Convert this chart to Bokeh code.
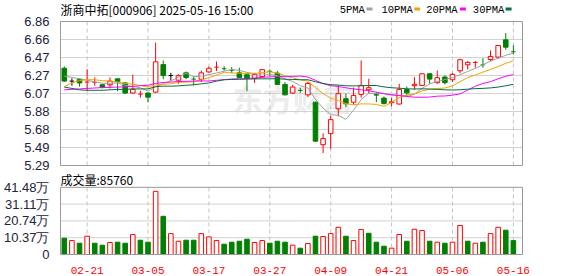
import numpy as np
from bokeh.plotting import figure
from bokeh.models import ColumnDataSource, FixedTicker, Range1d, Label
from bokeh.layouts import column
from bokeh.embed import file_html
from bokeh.resources import INLINE
from bokeh.core.properties import value

# ---------------- data ----------------
dates = ["02-18", "02-19", "02-20", "02-21", "02-24", "02-25", "02-26", "02-27", "02-28",
         "03-03", "03-04", "03-05", "03-06", "03-07", "03-10", "03-11", "03-12", "03-13", "03-14",
         "03-17", "03-18", "03-19", "03-20", "03-21", "03-24", "03-25", "03-26", "03-27", "03-28", "03-31",
         "04-01", "04-02", "04-03", "04-07", "04-08", "04-09", "04-10", "04-11", "04-14", "04-15",
         "04-16", "04-17", "04-18", "04-21", "04-22", "04-23", "04-24", "04-25", "04-28", "04-29", "04-30",
         "05-06", "05-07", "05-08", "05-09", "05-12", "05-13", "05-14", "05-15", "05-16"]

opens = [6.35, 6.21, 6.23, 6.198, 6.195, 6.17, 6.17, 6.235, 6.19, 6.08,
         6.065, 6.08, 6.09, 6.39, 6.27, 6.22, 6.30, 6.235, 6.23, 6.31,
         6.36, 6.347, 6.33, 6.30, 6.28, 6.24, 6.26, 6.32, 6.297, 6.174,
         6.08, 6.112, 6.06, 5.98, 5.517, 5.637, 5.909, 6.018, 5.98, 6.065,
         6.116, 6.062, 6.025, 5.975, 5.96, 6.118, 6.16, 6.163, 6.29, 6.193,
         6.254, 6.225, 6.323, 6.388, 6.412, 6.39, 6.446, 6.472, 6.66, 6.532]
highs = [6.37, 6.24, 6.24, 6.34, 6.25, 6.18, 6.25, 6.24, 6.20, 6.28,
         6.105, 6.085, 6.63, 6.435, 6.30, 6.285, 6.315, 6.26, 6.325, 6.37,
         6.424, 6.373, 6.363, 6.355, 6.285, 6.30, 6.34, 6.337, 6.32, 6.20,
         6.17, 6.138, 6.20, 5.985, 5.64, 5.83, 6.163, 6.075, 6.14, 6.435,
         6.236, 6.09, 6.043, 6.03, 6.18, 6.152, 6.254, 6.297, 6.297, 6.326,
         6.272, 6.30, 6.454, 6.428, 6.428, 6.46, 6.544, 6.60, 6.733, 6.60]
lows = [6.20, 6.16, 6.15, 6.10, 6.16, 6.13, 6.13, 6.10, 6.07, 6.075,
        6.03, 5.98, 6.08, 6.23, 6.215, 6.18, 6.23, 6.163, 6.20, 6.305,
        6.32, 6.323, 6.297, 6.25, 6.10, 6.19, 6.25, 6.26, 6.17, 6.055,
        6.07, 6.083, 6.036, 5.55, 5.426, 5.47, 5.826, 5.927, 5.956, 6.03,
        6.073, 5.98, 5.953, 5.935, 5.955, 6.047, 6.116, 6.163, 6.18, 6.18,
        6.174, 6.20, 6.297, 6.337, 6.356, 6.356, 6.428, 6.454, 6.552, 6.50]
closes = [6.21, 6.21, 6.19, 6.20, 6.197, 6.14, 6.21, 6.205, 6.08, 6.12,
          6.068, 6.035, 6.42, 6.27, 6.27, 6.27, 6.25, 6.232, 6.30, 6.35,
          6.362, 6.345, 6.328, 6.25, 6.24, 6.28, 6.335, 6.317, 6.174, 6.06,
          6.145, 6.109, 6.185, 5.555, 5.583, 5.79, 6.073, 5.964, 6.054, 6.163,
          6.138, 6.058, 5.967, 5.985, 6.12, 6.082, 6.175, 6.29, 6.232, 6.247,
          6.193, 6.283, 6.443, 6.414, 6.414, 6.388, 6.479, 6.599, 6.58, 6.53]
# volume in 万 (10k lots)
volumes = [10.06, 8.62, 6.98, 11.29, 6.98, 5.75, 7.39, 7.6, 6.98, 12.3,
           8.83, 7.6, 39.0, 23.6, 12.9, 8.2, 8.83, 8.83, 12.9, 10.9,
           8.62, 6.36, 7.6, 8.2, 9.44, 7.39, 8.62, 6.98, 8.2, 7.6,
           5.75, 3.9, 6.77, 11.29, 11.09, 12.9, 16.8, 11.29, 8.62, 15.4,
           13.1, 7.6, 5.13, 3.9, 12.3, 8.2, 15.6, 14.8, 8.2, 7.6,
           6.98, 7.6, 17.9, 8.2, 6.98, 7.6, 12.9, 16.8, 15.0, 8.576]
ma5 = [6.265, 6.25, 6.235, 6.22, 6.201, 6.187, 6.187, 6.190, 6.166, 6.151,
       6.137, 6.102, 6.145, 6.183, 6.213, 6.253, 6.296, 6.258, 6.264, 6.280,
       6.299, 6.318, 6.337, 6.327, 6.305, 6.289, 6.287, 6.284, 6.269, 6.233,
       6.206, 6.161, 6.135, 6.011, 5.915, 5.844, 5.837, 5.793, 5.893, 6.009,
       6.078, 6.075, 6.076, 6.062, 6.054, 6.042, 6.066, 6.130, 6.180, 6.205,
       6.227, 6.249, 6.280, 6.316, 6.349, 6.388, 6.428, 6.459, 6.492, 6.515]
ma10 = [6.15, 6.19, 6.215, 6.225, 6.225, 6.215, 6.21, 6.20, 6.185, 6.176,
        6.162, 6.145, 6.168, 6.175, 6.182, 6.195, 6.199, 6.202, 6.224, 6.247,
        6.276, 6.307, 6.298, 6.296, 6.293, 6.294, 6.302, 6.311, 6.298, 6.269,
        6.247, 6.224, 6.210, 6.140, 6.074, 6.025, 5.999, 5.964, 5.952, 5.962,
        5.961, 5.956, 5.935, 5.978, 6.031, 6.060, 6.071, 6.103, 6.121, 6.129,
        6.135, 6.157, 6.205, 6.248, 6.277, 6.308, 6.338, 6.369, 6.404, 6.432]
ma20 = [6.115, 6.12, 6.125, 6.13, 6.135, 6.14, 6.142, 6.145, 6.148, 6.152,
        6.16, 6.165, 6.185, 6.195, 6.20, 6.205, 6.208, 6.21, 6.212, 6.211,
        6.219, 6.226, 6.233, 6.235, 6.237, 6.244, 6.251, 6.256, 6.261, 6.258,
        6.262, 6.265, 6.254, 6.218, 6.184, 6.160, 6.151, 6.137, 6.125, 6.116,
        6.104, 6.090, 6.072, 6.059, 6.053, 6.043, 6.035, 6.034, 6.036, 6.046,
        6.048, 6.057, 6.070, 6.113, 6.154, 6.184, 6.204, 6.236, 6.263, 6.281]
ma30 = [6.145, 6.13, 6.115, 6.11, 6.11, 6.11, 6.115, 6.12, 6.12, 6.125,
        6.125, 6.125, 6.15, 6.155, 6.155, 6.158, 6.165, 6.17, 6.18, 6.19,
        6.21, 6.225, 6.228, 6.23, 6.232, 6.234, 6.235, 6.235, 6.236, 6.231,
        6.228, 6.225, 6.225, 6.203, 6.183, 6.171, 6.167, 6.159, 6.158, 6.159,
        6.162, 6.162, 6.147, 6.138, 6.133, 6.126, 6.124, 6.126, 6.124, 6.120,
        6.115, 6.113, 6.116, 6.122, 6.128, 6.131, 6.136, 6.145, 6.159, 6.175]

price_tick_labels = ["5.29", "5.49", "5.68", "5.88", "6.07", "6.27", "6.47", "6.66", "6.86"]
vol_tick_labels = ["0", "10.37万", "20.74万", "31.11万", "41.48万"]
date_tick_labels = ["02-21", "03-05", "03-17", "03-27", "04-09", "04-21", "05-06", "05-16"]
price_lo, price_hi = 5.29, 6.86
vol_hi = 41.48
title_text = "浙商中拓[000906] 2025-05-16 15:00"
ma_names = ["5PMA", "10PMA", "20PMA", "30PMA"]

# ---------------- styles / geometry ----------------
RED = "#ff0000"
GREEN = "#008000"
MA_COLORS = ["#a0a0a0", "#f5a300", "#ff00ff", "#00703c"]
GRID = "#d2d2d2"
VGRID = "#c4c4c4"
FRAME = "#999999"
LABEL = "#22223c"
W = 578
FL, FR = 56, 523            # frame pixel edges (left/right)
X0, X1 = -0.63, 60.33       # x range (slot -0.5..60.2 is the bordered box)
BOX_L, BOX_R = -0.5, 60.2
P1_H, P1_FH = 172, 166      # price canvas / frame heights
Y1_LO, Y1_HI = 5.279, 7.089
P2_H, P2_FH = 104, 84
Y2_LO, Y2_HI = -0.61, 50.63


def fx(px):
    return X0 + (px - FL) * (X1 - X0) / (FR - FL)


def fy1(py):
    return Y1_HI - py * (Y1_HI - Y1_LO) / P1_FH


def fy2(py):
    return Y2_HI - py * (Y2_HI - Y2_LO) / P2_FH


o = np.array(opens); c = np.array(closes); hi = np.array(highs); lo = np.array(lows)
vol = np.array(volumes)
idx = np.arange(len(c), dtype=float)
hw = 0.3

doji = np.abs(c - o) < 0.004
top = np.maximum(o, c)
bot = np.minimum(o, c)
ccol = np.where(c > o, RED, np.where(c < o, GREEN, "#000000"))

prev = np.concatenate([[o[0]], c[:-1]])
vol_up = c >= prev

price_ticks = [price_lo + k * (price_hi - price_lo) / 8 for k in range(9)]
vol_ticks = [k * vol_hi / 4 for k in range(5)]
date_ticks = [float(dates.index(d)) for d in date_tick_labels]

xr = Range1d(X0, X1)


def style_yaxis(ax, ticks, labels):
    ax.ticker = FixedTicker(ticks=ticks)
    ax.major_label_overrides = {t: s for t, s in zip(ticks, labels)}
    ax.axis_line_color = None
    ax.major_tick_line_color = None
    ax.minor_tick_line_color = None
    ax.major_label_standoff = 4
    ax.major_label_text_font = "Liberation Sans"
    ax.major_label_text_font_size = "13px"
    ax.major_label_text_color = LABEL


def panel_grid(p, ylo, yhi, yticks):
    inner = [t for t in yticks if ylo < t < yhi]
    p.segment(x0=[BOX_L] * len(inner), x1=[BOX_R] * len(inner), y0=inner, y1=inner,
              line_color=GRID, line_width=1)
    p.segment(x0=date_ticks, x1=date_ticks, y0=[ylo] * len(date_ticks), y1=[yhi] * len(date_ticks),
              line_color=VGRID, line_width=1, line_dash="4 3")


def panel_box(p, ylo, yhi):
    p.quad(left=[BOX_L], right=[BOX_R], bottom=[ylo], top=[yhi],
           fill_alpha=0, line_color=FRAME, line_width=1)


# ---------------- price panel ----------------
p1 = figure(width=W, height=P1_H, x_range=xr, y_range=Range1d(Y1_LO, Y1_HI),
            output_backend="svg", toolbar_location=None,
            min_border_left=FL, min_border_right=W - FR, min_border_top=0,
            min_border_bottom=P1_H - P1_FH)
p1.outline_line_color = None
p1.background_fill_color = "white"
p1.border_fill_color = "white"
p1.xaxis.visible = False
p1.grid.visible = False
style_yaxis(p1.yaxis[0], price_ticks, price_tick_labels)

# watermark
p1.add_layout(Label(x=30, y=6.03, text="东方财富", text_font="Noto Sans CJK SC",
                    text_font_size="30px", text_font_style="bold", text_color="#ececec",
                    text_align="center", text_baseline="middle", level="underlay"))
panel_grid(p1, price_lo, price_hi, price_ticks)

# wicks
sw_up = ColumnDataSource(dict(x=idx, y0=hi, y1=np.where(doji, lo, top), col=ccol))
sw_dn = ColumnDataSource(dict(x=idx[~doji], y0=bot[~doji], y1=lo[~doji], col=ccol[~doji]))
p1.segment(x0="x", y0="y0", x1="x", y1="y1", color="col", line_width=1, source=sw_up)
p1.segment(x0="x", y0="y0", x1="x", y1="y1", color="col", line_width=1, source=sw_dn)
# bodies
m_up = (c > o) & ~doji
m_dn = (c < o) & ~doji
p1.quad(left=idx[m_up] - hw, right=idx[m_up] + hw, top=top[m_up], bottom=bot[m_up],
        fill_color="white", line_color=RED, line_width=1)
p1.quad(left=idx[m_dn] - hw, right=idx[m_dn] + hw, top=top[m_dn], bottom=bot[m_dn],
        fill_color=GREEN, line_color=GREEN, line_width=1)
# doji crosses
sc = ColumnDataSource(dict(x0=idx[doji] - hw, x1=idx[doji] + hw, y=c[doji], col=ccol[doji]))
p1.segment(x0="x0", y0="y", x1="x1", y1="y", color="col", line_width=1, source=sc)
# moving averages
for arr, col in zip([ma5, ma10, ma20, ma30], MA_COLORS):
    p1.line(idx, arr, line_color=col, line_width=1)
panel_box(p1, price_lo, price_hi)

# title + MA legend in the header band
p1.text(x=[fx(57)], y=[fy1(9)], text=[title_text], text_font=value("Noto Sans CJK SC"),
        text_font_size="12px", text_color="#000000", text_baseline="middle", text_align="left")
leg_text_px = [338, 380, 425, 472]
leg_box_px = [365, 413, 459, 505]
p1.text(x=[fx(v) for v in leg_text_px], y=[fy1(9)] * 4, text=ma_names,
        text_font=value("Liberation Mono"), text_font_size="10.5px", text_color="#000000",
        text_baseline="middle", text_align="left")
p1.quad(left=[fx(v) for v in leg_box_px], right=[fx(v + 6) for v in leg_box_px],
        top=[fy1(7)] * 4, bottom=[fy1(10)] * 4, fill_color=MA_COLORS, line_color=None)

# ---------------- volume panel ----------------
p2 = figure(width=W, height=P2_H, x_range=xr, y_range=Range1d(Y2_LO, Y2_HI),
            output_backend="svg", toolbar_location=None,
            min_border_left=FL, min_border_right=W - FR, min_border_top=0,
            min_border_bottom=P2_H - P2_FH)
p2.outline_line_color = None
p2.background_fill_color = "white"
p2.border_fill_color = "white"
p2.grid.visible = False
xa = p2.xaxis[0]
xa.ticker = FixedTicker(ticks=date_ticks)
xa.major_label_overrides = {t: s for t, s in zip(date_ticks, date_tick_labels)}
xa.axis_line_color = None
xa.major_tick_line_color = None
xa.minor_tick_line_color = None
xa.major_label_standoff = 5
xa.major_label_text_font = "Liberation Mono"
xa.major_label_text_font_size = "11px"
xa.major_label_text_color = RED
style_yaxis(p2.yaxis[0], vol_ticks, vol_tick_labels)
panel_grid(p2, 0, vol_hi, vol_ticks)

p2.quad(left=idx[vol_up] - hw, right=idx[vol_up] + hw, top=vol[vol_up], bottom=0,
        fill_color="white", line_color=RED, line_width=1)
p2.quad(left=idx[~vol_up] - hw, right=idx[~vol_up] + hw, top=vol[~vol_up], bottom=0,
        fill_color=GREEN, line_color=GREEN, line_width=1)
panel_box(p2, 0, vol_hi)

p2.text(x=[fx(57)], y=[fy2(7.5)], text=["成交量:%d" % round(volumes[-1] * 10000)],
        text_font=value("Noto Sans CJK SC"), text_font_size="12px", text_color="#000000",
        text_baseline="middle", text_align="left")

layout = column(p1, p2, spacing=0)
open("out.html", "w").write(file_html(layout, INLINE))
